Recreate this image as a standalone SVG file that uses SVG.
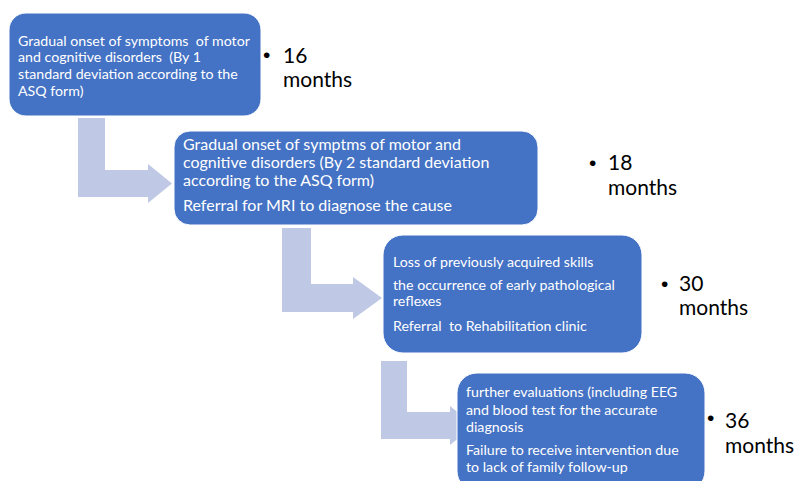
<svg xmlns="http://www.w3.org/2000/svg" width="794" height="481" viewBox="0 0 794 481">
  <style>
    .box { fill: #4472C4; stroke: #FFFFFF; stroke-width: 1; }
    .arrow { fill: #BFC9E5; stroke: none; }
    .t { font-family: Lato, "Open Sans", "Liberation Sans", sans-serif; fill: #FFFFFF; white-space: pre; }
    .s14 { font-size: 14.2px; }
    .s16 { font-size: 16px; }
    .lbl { font-family: Lato, "Liberation Sans", sans-serif; font-size: 21px; fill: #000000; }
    .bul { font-family: "Liberation Sans", Arial, sans-serif; font-size: 21px; fill: #000000; }
  </style>
  <rect width="794" height="481" fill="#FFFFFF"/>

  <g id="connectors">
    <path class="arrow" d="M78,118 H105 V170 H148 V164 L172,183.5 L148,203 V197 H78 Z"/>
    <path class="arrow" d="M282,228 H311 V284 H353 V277 L382,298 L353,319 V312 H282 Z"/>
    <path class="arrow" d="M381,361 H407 V412 H450 V406 L474,425.5 L450,445 V439 H381 Z"/>
  </g>

  <g id="node1">
    <rect class="box" x="9" y="13" width="252" height="103" rx="17" ry="17"/>
    <text class="t s14" x="18" y="45.5">Gradual onset of symptoms  of motor</text>
    <text class="t s14" x="18" y="62.2">and cognitive disorders  (By 1</text>
    <text class="t s14" x="18" y="78.9">standard deviation according to the</text>
    <text class="t s14" x="18" y="95.6">ASQ form)</text>
  </g>

  <g id="node2">
    <rect class="box" x="174" y="131" width="364" height="94" rx="16" ry="16"/>
    <text class="t s16" x="183" y="150">Gradual onset of symptms of motor and</text>
    <text class="t s16" x="183" y="168">cognitive disorders (By 2 standard deviation</text>
    <text class="t s16" x="183" y="186">according to the ASQ form)</text>
    <text class="t s16" x="183" y="211">Referral for MRI to diagnose the cause</text>
  </g>

  <g id="node3">
    <rect class="box" x="383" y="235" width="259" height="118" rx="20" ry="20"/>
    <text class="t s14" x="393" y="267">Loss of previously acquired skills</text>
    <text class="t s14" x="393" y="290">the occurrence of early pathological</text>
    <text class="t s14" x="393" y="306">reflexes</text>
    <text class="t s14" x="393" y="331">Referral  to Rehabilitation clinic</text>
  </g>

  <g id="node4">
    <rect class="box" x="457" y="373" width="248" height="118" rx="20" ry="20"/>
    <text class="t s14" x="466" y="397">further evaluations (including EEG</text>
    <text class="t s14" x="466" y="414.5">and blood test for the accurate</text>
    <text class="t s14" x="466" y="432">diagnosis</text>
    <text class="t s14" x="466" y="454.5">Failure to receive intervention due</text>
    <text class="t s14" x="466" y="472">to lack of family follow-up</text>
  </g>

  <g id="label16">
    <text class="bul" x="263" y="62">•</text>
    <text class="lbl" x="283" y="63">16</text>
    <text class="lbl" x="283" y="87">months</text>
  </g>
  <g id="label18">
    <text class="bul" x="589" y="170">•</text>
    <text class="lbl" x="608" y="170">18</text>
    <text class="lbl" x="608" y="195">months</text>
  </g>
  <g id="label30">
    <text class="bul" x="661" y="291">•</text>
    <text class="lbl" x="679" y="291">30</text>
    <text class="lbl" x="679" y="315">months</text>
  </g>
  <g id="label36">
    <text class="bul" x="707" y="425">•</text>
    <text class="lbl" x="725" y="428">36</text>
    <text class="lbl" x="725" y="453">months</text>
  </g>
</svg>
